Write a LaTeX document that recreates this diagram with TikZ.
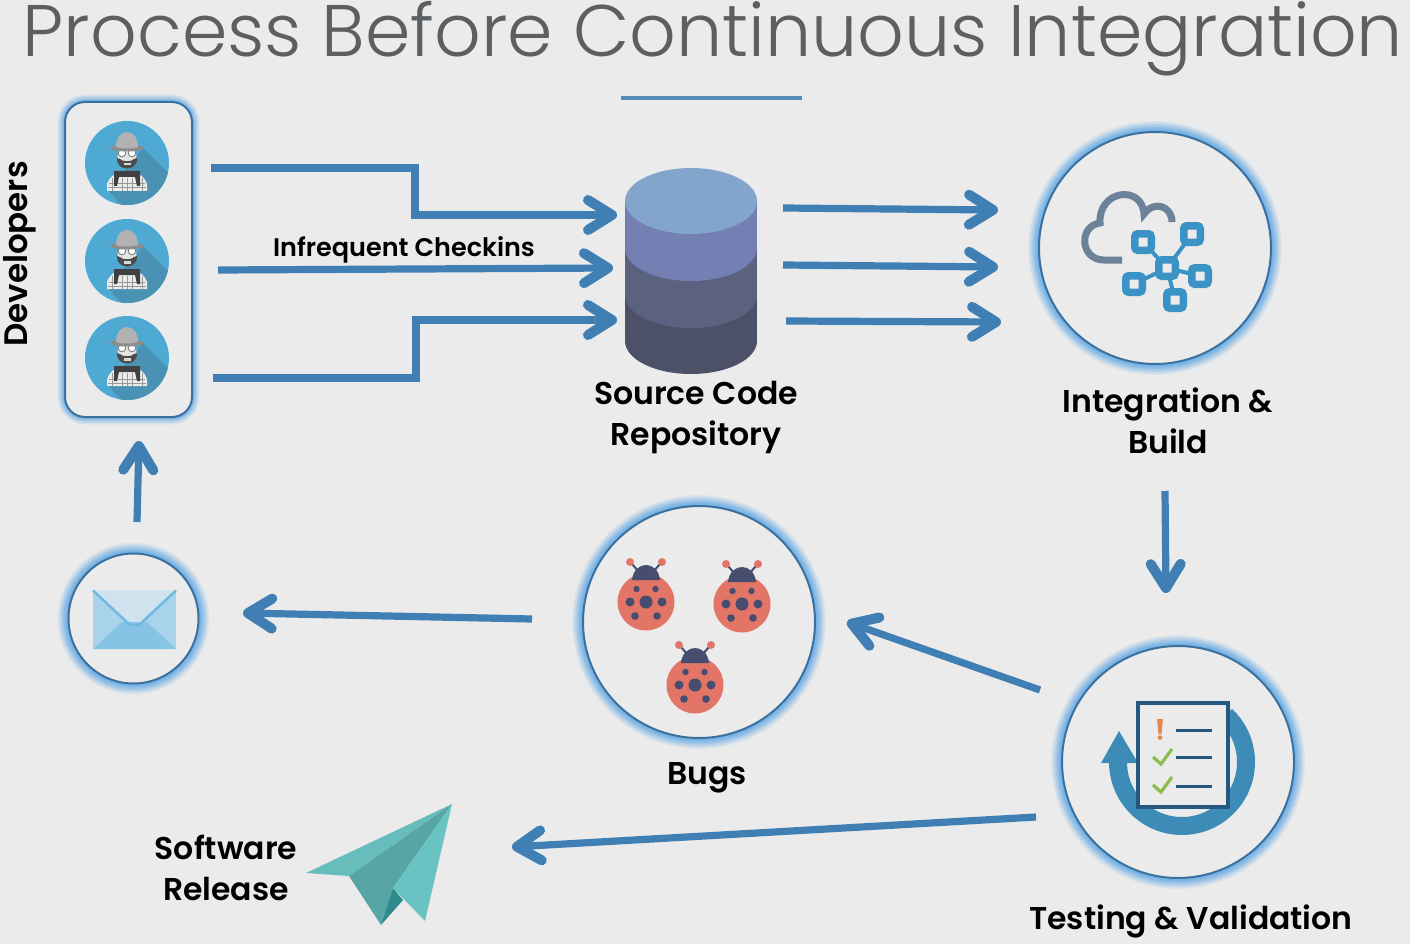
\documentclass[tikz,border=0pt]{standalone}
\usepackage{fontspec}
\newfontfamily\titlefont{Poppins Light}
\newfontfamily\labelfont{Poppins SemiBold}
\usepackage{tikz}
\usetikzlibrary{arrows.meta}
\definecolor{paper}{HTML}{EBEBEB}
\definecolor{flowblue}{HTML}{3F7FB3}
\definecolor{ringblue}{HTML}{3A719F}
\definecolor{glowblue}{HTML}{5FA8E4}
\definecolor{titlegray}{HTML}{5C5F62}
\definecolor{avatarblue}{HTML}{4EAAD3}
\definecolor{avatarshade}{HTML}{4A92B4}
\definecolor{bugred}{HTML}{E27565}
\definecolor{bugdark}{HTML}{474D6E}
\definecolor{hubblue}{HTML}{3A93C4}
\definecolor{cloudgray}{HTML}{6C8299}
\definecolor{loopblue}{HTML}{3D8CB8}
\definecolor{docblue}{HTML}{24587E}
\definecolor{checkgreen}{HTML}{8DBB4F}
\definecolor{alertorange}{HTML}{E08A50}
\definecolor{bandA}{HTML}{83A5CB}
\definecolor{bandB}{HTML}{7480B3}
\definecolor{bandC}{HTML}{5A6280}
\definecolor{bandD}{HTML}{4C5168}
\definecolor{mailside}{HTML}{A9D3EA}
\definecolor{mailflap}{HTML}{CFE3EF}
\definecolor{mailfold}{HTML}{86C4E6}
\definecolor{mailedge}{HTML}{6FB8E0}
\definecolor{wingA}{HTML}{67BDBB}
\definecolor{wingB}{HTML}{58A5A5}
\definecolor{wingC}{HTML}{69C3C2}
\definecolor{wingD}{HTML}{2F8A8C}
\tikzset{
  flow/.style={draw=flowblue,line width=7.2pt,
    -{Straight Barb[length=24pt,width=30pt,line width=10pt,round]}},
  glowring/.style={draw=ringblue,line width=2pt,fill=paper,inner sep=0pt,
    preaction={draw=glowblue,line width=22pt,draw opacity=.10},
    preaction={draw=glowblue,line width=19pt,draw opacity=.14},
    preaction={draw=glowblue,line width=16pt,draw opacity=.18},
    preaction={draw=glowblue,line width=13pt,draw opacity=.22},
    preaction={draw=glowblue,line width=10pt,draw opacity=.26},
    preaction={draw=glowblue,line width=7pt,draw opacity=.3},
    preaction={draw=glowblue,line width=4pt,draw opacity=.35}},
  glowbox/.style={draw=ringblue,line width=2pt,fill=paper,inner sep=0pt,
    preaction={draw=glowblue,line width=15pt,draw opacity=.12},
    preaction={draw=glowblue,line width=12pt,draw opacity=.18},
    preaction={draw=glowblue,line width=9pt,draw opacity=.24},
    preaction={draw=glowblue,line width=6pt,draw opacity=.3},
    preaction={draw=glowblue,line width=4pt,draw opacity=.35}},
  ringnode/.style={circle,glowring,minimum size=#1},
  avatarnode/.style={circle,fill=avatarblue,minimum size=84pt,inner sep=0pt},
  hubnode/.style={draw=hubblue,fill=paper,line width=7.5pt,rounded corners=3pt,
    minimum size=16.5pt,inner sep=0pt,outer sep=0pt},
  steplabel/.style={font=\labelfont\fontsize{31.5}{41}\selectfont,text=black,align=center,inner sep=0pt},
  ladybug/.pic={
    \draw[bugdark,line width=2pt] (-7,-30) -- (-14,-38) (7,-30) -- (14,-38);
    \fill[bugred] (-16,-40) circle(4pt) (16,-40) circle(4pt);
    \fill[bugred] (0,0) circle(28.5pt);
    \fill[bugdark] (-14,-22) .. controls (-12,-42) and (12,-42) .. (14,-22) -- cycle;
    \fill[bugdark] (0,0) circle(6.5pt) (-16,0) circle(4.5pt) (16,0) circle(4.5pt)
      (-9.5,-13) circle(3.2pt) (9.5,-13) circle(3.2pt) (-11,14) circle(3.8pt) (11,14) circle(3.8pt);
  },
  developer/.pic={
    \begin{scope}
    \clip (0,0) circle(42pt);
    \fill[avatarshade] (16,-15) -- (60,29) -- (10,60) -- (-19,27) -- cycle;
    \end{scope}
    % shirt and scarf
    \fill[black!8] (-20,28) -- (-20,21) .. controls (-18,14) and (-12,11) .. (-8,9) -- (8,9)
      .. controls (12,11) and (18,14) .. (20,21) -- (20,28) -- cycle;
    \draw[black!40,line width=1pt] (-18,21) -- (18,21) (-19,25) -- (19,25)
      (-15,15) -- (-15,28) (-5,15) -- (-5,28) (0,15) -- (0,28) (5,15) -- (5,28) (15,15) -- (15,28);
    \fill[black!75] (-13,8) -- (13,8) -- (13,23) -- (10,23) -- (8,14) -- (-8,14) -- (-10,23) -- (-13,23) -- cycle;
    % face, beard, glasses
    \fill[black!10] (0,-6) ellipse[x radius=9.5pt,y radius=11pt];
    \fill[black!70] (-10,-5) -- (-7,-4) .. controls (-5,-1) and (5,-1) .. (7,-4) -- (10,-5)
      .. controls (11,9) and (-11,9) .. (-10,-5) -- cycle;
    \fill[black!15] (-3.5,0) rectangle (3.5,2.5);
    \fill[white] (-5,-10) circle(3.8pt) (5,-10) circle(3.8pt);
    \draw[black!55,line width=.8pt] (-5,-10) circle(3.8pt) (5,-10) circle(3.8pt);
    % hat
    \fill[black!45] (0,-15) ellipse[x radius=17pt,y radius=3.5pt];
    \fill[black!30] (-11,-16) .. controls (-11,-36) and (11,-36) .. (11,-16)
      .. controls (5,-14) and (-5,-14) .. (-11,-16) -- cycle;
  }
}
\begin{document}
\begin{tikzpicture}[x=1pt,y=-1pt]
\useasboundingbox (0,0) rectangle (1410,944);
\fill[paper] (0,0) rectangle (1410,944);
% Drawing title
\node[anchor=base,text=titlegray,font=\titlefont\fontsize{73}{80}\selectfont,inner sep=0pt] (title) at (713,57) {Process Before Continuous Integration};
\draw[flowblue!90!white,line width=3.4pt] (621,98) -- (802,98);
% Line 1: developers
\node[rounded corners=20pt,minimum width=127pt,minimum height=315pt,glowbox] (devbox) at (128.5,259.5) {};
\foreach \row/\ypos in {A/163,B/261,C/358} {
  \node[avatarnode] (dev\row) at (127,\ypos) {};
  \pic at (127,\ypos) {developer};
}
\node[steplabel,rotate=90,font=\labelfont\fontsize{32.5}{41}\selectfont] (devlabel) at (20,254) {Developers};
% Line 2: repository
\foreach \ybot/\band in {341/bandD,295/bandC,248/bandB} {
  \fill[\band] (625,\ybot-47) rectangle (757,\ybot);
  \fill[\band] (691,\ybot) ellipse[x radius=66pt,y radius=33pt];
}
\fill[bandA] (691,201) ellipse[x radius=66pt,y radius=33pt];
\node[steplabel] (repolabel) at (696,418) {Source Code\\Repository};
% Line 3: integration
\node[ringnode=232pt] (buildring) at (1155,248) {};
\draw[cloudgray,line width=7pt] (1122,260) -- (1104,260)
  .. controls (1080,260) and (1078,226) .. (1100,223)
  .. controls (1098,190) and (1142,184) .. (1144,214)
  .. controls (1154,200) and (1172,206) .. (1172,222);
\node[hubnode] (hubC) at (1167,268) {};
\foreach \hub/\xpos/\ypos in {P/1143/242,Q/1192/234,R/1200/276,S/1134/284,T/1175/300} {
  \node[hubnode] (hub\hub) at (\xpos,\ypos) {};
  \draw[hubblue,line width=4pt] (hubC) -- (hub\hub);
}
\node[steplabel] (buildlabel) at (1168,421) {Integration \&\\Build};
% Line 4: testing
\node[ringnode=232pt] (testring) at (1178,762) {};
\begin{scope}[shift={(1182,762)},y=1pt]
\draw[loopblue,line width=18pt] (-64,0) arc[start angle=180,end angle=407,radius=64pt];
\fill[loopblue] (-63,31) -- (-81,-1) -- (-44,-1) -- cycle;
\end{scope}
\draw[docblue,fill=paper,line width=3.2pt] (1138,703) rectangle (1228,807);
\foreach \ypos in {730,757,786} {
  \draw[docblue,line width=3pt] (1176,\ypos) -- (1212,\ypos);
}
\fill[alertorange] (1157,719) -- (1163,719) -- (1161.5,734) -- (1158.5,734) -- cycle;
\fill[alertorange] (1160,737.5) circle(2.4pt);
\draw[checkgreen,line width=3.2pt] (1153,757) -- (1161,764) -- (1172,749);
\draw[checkgreen,line width=3.2pt] (1153,785) -- (1161,792) -- (1172,777);
\node[steplabel] (testlabel) at (1191,921) {Testing \& Validation};
% Line 5: bugs
\node[ringnode=232pt] (bugring) at (699,622) {};
\pic at (646,602) {ladybug};
\pic at (742,604) {ladybug};
\pic at (695,685) {ladybug};
\node[steplabel] (buglabel) at (707,778) {Bugs};
% Line 6: mail
\node[ringnode=130pt] (mailring) at (133.5,618.5) {};
\fill[mailside] (93,590) rectangle (176,649);
\fill[mailflap] (93,590) -- (176,590) -- (139,625) -- (130,625) -- cycle;
\fill[mailfold] (93,649) -- (122,622) -- (147,622) -- (176,649) -- cycle;
\draw[mailedge,line width=2.4pt] (93,590.5) -- (130,625) -- (139,625) -- (176,590.5);
% Line 7: release
\fill[wingA] (306,873) -- (452,804) -- (349,876) -- cycle;
\fill[wingB] (349,876) -- (452,804) -- (393,888) -- (381,925) -- cycle;
\fill[wingD] (393,888) -- (403,900) -- (381,925) -- cycle;
\fill[wingC] (452,804) -- (393,888) -- (425,921) -- cycle;
\node[steplabel] (releaselabel) at (226,868) {Software\\Release};
% Done with icons; drawing connectors
\coordinate (checkinAs) at (211,168);
\coordinate (checkinAt) at (617,215);
\coordinate (checkinBs) at (218,270);
\coordinate (checkinBt) at (613,268);
\coordinate (checkinCs) at (213,378);
\coordinate (checkinCt) at (617,320);
\draw[flow] (checkinAs) -- (415,168) -- (415,215) -- (checkinAt);
\draw[flow] (checkinBs) -- (checkinBt);
\draw[flow] (checkinCs) -- (416,378) -- (416,320) -- (checkinCt);
\node[font=\labelfont\fontsize{25.5}{28}\selectfont,inner sep=0pt] (checkinlabel) at (404,250) {Infrequent Checkins};
\foreach \name/\xa/\ya/\xb/\yb in {pullA/783/208/998/210,pullB/783/265/998/267,pullC/786/321/1001/322,
  totest/1165/491/1166/593,tobugs/1040/690/847/622,tomail/532/619/243/613,todev/137/522/139/441,torelease/1036/817/512/847} {
  \coordinate (\name s) at (\xa,\ya);
  \coordinate (\name t) at (\xb,\yb);
  \draw[flow] (\name s) -- (\name t);
}
% Done with connectors
\end{tikzpicture}
\end{document}
